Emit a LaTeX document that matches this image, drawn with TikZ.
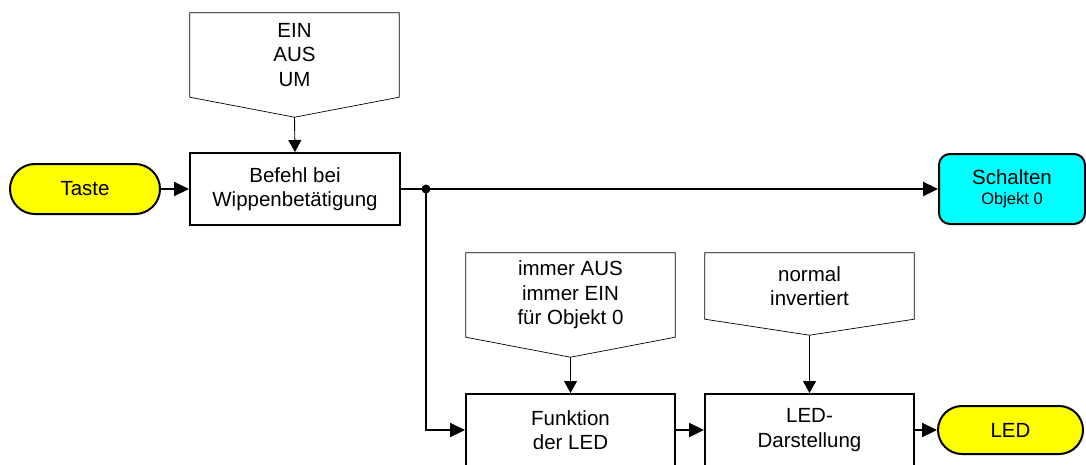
\documentclass[tikz,border=0pt]{standalone}
\usepackage{fontspec}
\setmainfont{Liberation Sans}
\usetikzlibrary{arrows.meta,calc}
\definecolor{tyellow}{RGB}{255,255,0}
\definecolor{tcyan}{RGB}{0,255,255}
\begin{document}
\begin{tikzpicture}[x=1pt,y=-1pt,
  font=\fontsize{20.5}{24.5}\selectfont,
  mainbox/.style={draw, line width=2pt, minimum width=209pt, minimum height=72pt, inner sep=0pt, align=center, fill=white},
  termbox/.style={draw, line width=2pt, inner sep=0pt, align=center, rounded corners=24pt},
  callbox/.style={inner sep=0pt, align=center, minimum width=209pt},
  callshape/.style={draw, line width=0.7pt, fill=white},
  conn/.style={line width=2.2pt, -{Triangle[length=15pt,width=14pt]}},
  thinconn/.style={line width=0.9pt, -{Triangle[length=12pt,width=13pt]}}
]
\useasboundingbox (0,0) rectangle (1086,464);
\clip (0,0) rectangle (1086,464);

% callouts
\node[callbox, minimum height=84pt] (c1) at (294.5,55) {};
\coordinate (c1t) at ($(c1.south)+(0,20)$);
\draw[callshape] (c1.north west) -- (c1.north east) -- (c1.south east) -- (c1t) -- (c1.south west) -- cycle;
\node[callbox] at (c1) {EIN\\AUS\\UM};

\node[callbox, minimum height=84pt] (c2) at (570.5,295) {};
\coordinate (c2t) at ($(c2.south)+(0,20)$);
\draw[callshape] (c2.north west) -- (c2.north east) -- (c2.south east) -- (c2t) -- (c2.south west) -- cycle;
\node[callbox] at (c2) {immer AUS\\immer EIN\\für Objekt 0};

\node[callbox, minimum height=66pt] (c3) at (809.5,286) {};
\coordinate (c3t) at ($(c3.south)+(0,16)$);
\draw[callshape] (c3.north west) -- (c3.north east) -- (c3.south east) -- (c3t) -- (c3.south west) -- cycle;
\node[callbox] at (c3) {normal\\invertiert};

% main boxes
\node[mainbox, minimum width=210pt] (bef) at (295,189) {Befehl bei\\Wippenbetätigung};
\node[mainbox] (fun) at (570.5,430) {Funktion\\der LED};
\node[mainbox] (ledd) at (809.5,430) {LED-\\Darstellung};

% terminators
\node[termbox, fill=tyellow, minimum width=150pt, minimum height=50pt, rounded corners=25pt] (taste) at (85,189) {Taste};
\node[termbox, fill=tyellow, minimum width=145pt, minimum height=48pt] (led) at (1010.5,430) {LED};
\node[termbox, fill=tcyan, minimum width=146pt, minimum height=70pt, rounded corners=11pt] (sch) at (1012,189) {Schalten\\[-4pt]{\fontsize{16.5}{19}\selectfont Objekt 0}};

% connectors
\draw[thinconn] (c1t) -- (bef.north);
\draw[thinconn] (c2t) -- (fun.north);
\draw[thinconn] (c3t) -- (ledd.north);

\draw[conn] (taste.east) -- (bef.west);
\draw[conn] (bef.east) -- (sch.west);
\coordinate (j) at (426,189);
\fill (j) circle (4.5pt);
\draw[conn] (j) |- (fun.west);
\draw[conn] (fun.east) -- (ledd.west);
\draw[conn] (ledd.east) -- (led.west);
\end{tikzpicture}
\end{document}
